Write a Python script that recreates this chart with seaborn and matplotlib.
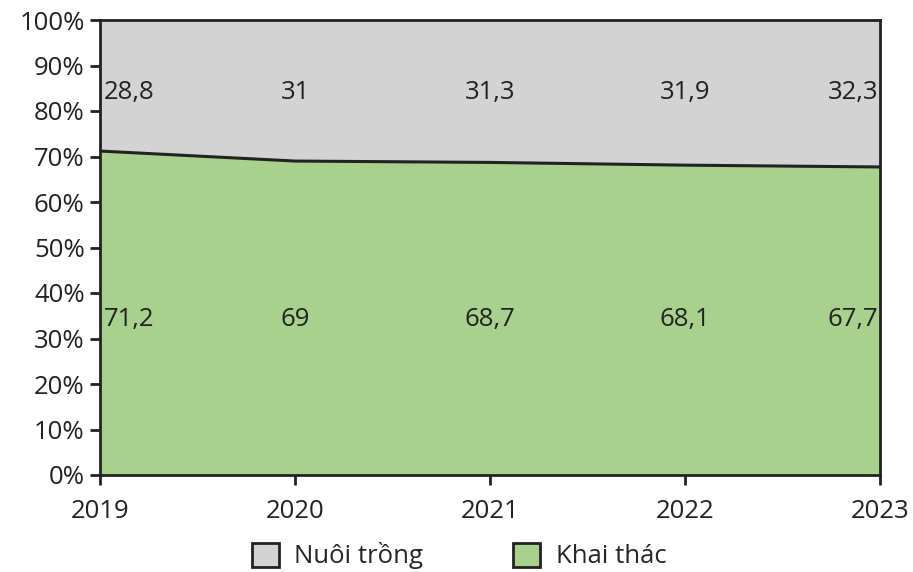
import matplotlib
matplotlib.use("Agg")
import matplotlib.pyplot as plt
import seaborn as sns
import pandas as pd
from matplotlib.patches import Patch

years = [2019, 2020, 2021, 2022, 2023]
khai_thac = [71.2, 69, 68.7, 68.1, 67.7]
nuoi_trong = [28.8, 31, 31.3, 31.9, 32.3]
y_ticks = [0, 10, 20, 30, 40, 50, 60, 70, 80, 90, 100]

sns.set_style("ticks")
plt.rcParams['font.family'] = ['Open Sans', 'DejaVu Sans']

df = pd.DataFrame({"year": years, "Khai thác": khai_thac, "Nuôi trồng": nuoi_trong})

fig = plt.figure(figsize=(9.13, 5.72), dpi=100)
ax = fig.add_axes([100 / 913, 97 / 572, 780 / 913, 455 / 572])

green = "#A9D18E"
grey = "#D3D3D3"
ink = "#222222"
fs = 18.5

ax.stackplot(df["year"], df["Khai thác"], df["Nuôi trồng"], colors=[green, grey], linewidth=0)
sns.lineplot(data=df, x="year", y="Khai thác", ax=ax, color=ink, linewidth=2.2)

ax.set_xlim(years[0], years[-1])
ax.set_ylim(0, 100)
ax.set_xticks(years)
ax.set_xticklabels([str(y) for y in years])
ax.set_yticks(y_ticks)
ax.set_yticklabels([f"{t}%" for t in y_ticks])
ax.set_xlabel("")
ax.set_ylabel("")
ax.tick_params(axis="both", labelsize=fs, colors=ink, width=2, length=7, direction="out")
ax.tick_params(axis="x", pad=10)
ax.tick_params(axis="y", pad=4)
for s in ax.spines.values():
    s.set_linewidth(2)
    s.set_color(ink)
    s.set_visible(True)

def fmt(v):
    return f"{v:g}".replace(".", ",")

for i, yr in enumerate(years):
    if i == 0:
        ha, dx = "left", 0.02
    elif i == len(years) - 1:
        ha, dx = "right", -0.01
    else:
        ha, dx = "center", 0
    ax.text(yr + dx, 84.0, fmt(nuoi_trong[i]), ha=ha, va="center", fontsize=fs, color=ink)
    ax.text(yr + dx, 34.2, fmt(khai_thac[i]), ha=ha, va="center", fontsize=fs, color=ink)

handles = [Patch(facecolor=grey, edgecolor=ink, linewidth=2, label="Nuôi trồng"),
           Patch(facecolor=green, edgecolor=ink, linewidth=2, label="Khai thác")]
fig.legend(handles=handles, loc="center", bbox_to_anchor=(0.503, 0.028), ncol=2, frameon=False,
           fontsize=fs, handlelength=1.05, handleheight=1.05, columnspacing=3.5, handletextpad=0.6)

fig.savefig("out.png", dpi=100)
